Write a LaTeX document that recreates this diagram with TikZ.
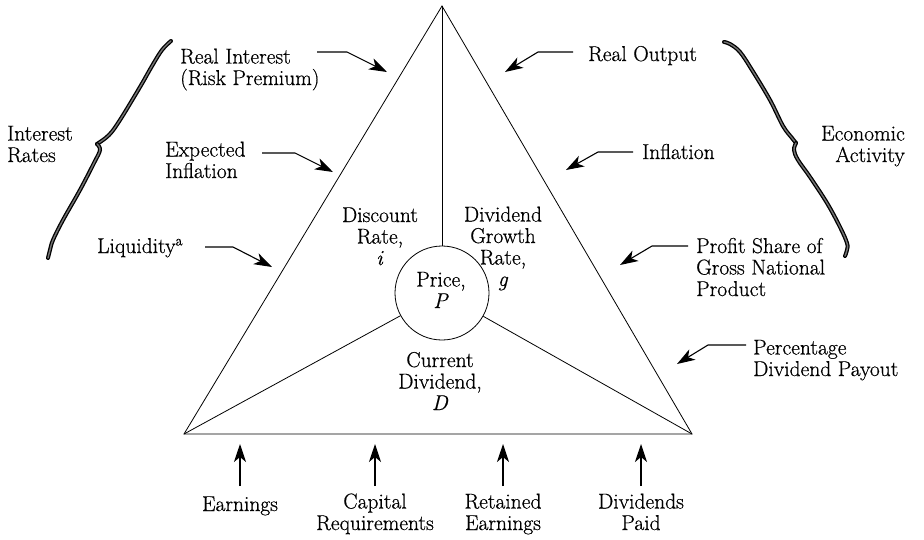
\documentclass[tikz,border=0pt]{standalone}
\usepackage{fontspec}
\setmainfont{Latin Modern Roman}[FakeBold=0.6]
\usetikzlibrary{arrows.meta}
\begin{document}
\begin{tikzpicture}[x=1pt,y=-1pt,
  lbl/.style={inner sep=0pt,font=\fontsize{21.5}{21.5}\selectfont},
  edge/.style={line width=0.8pt},
  arr/.style={line width=1.1pt,-{Stealth[length=18pt,width=12pt,inset=5pt]}},
  curly/.style={line width=1.3pt,line cap=round,line join=miter,
    double=black!55,double distance=1.4pt}]
\useasboundingbox (0,0) rectangle (924,539);

% triangle and the central price circle
\coordinate (A) at (442,6);
\coordinate (L) at (184,434);
\coordinate (R) at (692,434);
\draw[edge,line join=miter] (A) -- (L) -- (R) -- cycle;
\node[circle,draw,edge,minimum size=94pt,inner sep=0pt] (P) at (442,293) {};
\node[lbl,align=center,anchor=base] (price) at (441,308) {Price,\\\textit{P}};
\draw[edge] (A) -- (P.north);
\draw[edge] (P) -- (L);
\draw[edge] (P) -- (R);

% sector labels (anchored on the baseline of their last line)
\node[lbl,align=center,anchor=base] (disc) at (380,265) {Discount\\Rate,\\\textit{i}};
\node[lbl,align=center,anchor=base] (grow) at (503,286) {Dividend\\Growth\\Rate,\\\textit{g}};
\node[lbl,align=center,anchor=base] (cur) at (440,410) {Current\\Dividend,\\\textit{D}};

% left-hand factors
\node[lbl,align=left,anchor=base west] (ri) at (180,85) {Real Interest\\(Risk Premium)};
\node[lbl,align=left,anchor=base west] (ei) at (165,178) {Expected\\Inflation};
\node[lbl,align=left,anchor=base west] (liq) at (97,253) {Liquidity\textsuperscript{a}};
\node[lbl,align=left,anchor=base west] (ir) at (7,162) {Interest\\Rates};

\coordinate (ri0) at (317,52); \coordinate (ri1) at (387,72);
\coordinate (ei0) at (262,153); \coordinate (ei1) at (333,172);
\coordinate (lq0) at (205,247); \coordinate (lq1) at (272,267);
\draw[arr] (ri0) -- ++(30,0) -- (ri1);
\draw[arr] (ei0) -- ++(33,0) -- (ei1);
\draw[arr] (lq0) -- ++(28,0) -- (lq1);

% hand-drawn brace grouping the interest-rate factors
\draw[curly] plot[smooth,tension=0.6] coordinates
  {(171,41) (162,50) (152,66) (140,87) (120,120) (109,135) (97,144)};
\draw[curly] plot[smooth,tension=0.6] coordinates
  {(97,144) (100,150) (94,163) (80,190) (63,220) (53,240) (50,250) (48,258)};

% right-hand factors
\node[lbl,align=left,anchor=base west] (ro) at (588,61) {Real Output};
\node[lbl,align=left,anchor=base west] (inf) at (642,159) {Inflation};
\node[lbl,align=left,anchor=base west] (ps) at (696,296) {Profit Share of\\Gross National\\Product};
\node[lbl,align=left,anchor=base west] (pdp) at (753,376) {Percentage\\Dividend Payout};
\node[lbl,align=right,anchor=base east] (ea) at (905,162) {Economic\\Activity};

\coordinate (ro0) at (573,52); \coordinate (ro1) at (505,72);
\coordinate (in0) at (633,152); \coordinate (in1) at (566,170);
\coordinate (ps0) at (688,246); \coordinate (ps1) at (620,265);
\coordinate (pd0) at (746,345); \coordinate (pd1) at (677,364);
\draw[arr] (ro0) -- ++(-35,0) -- (ro1);
\draw[arr] (in0) -- ++(-35,0) -- (in1);
\draw[arr] (ps0) -- ++(-36,0) -- (ps1);
\draw[arr] (pd0) -- ++(-38,0) -- (pd1);

% hand-drawn brace grouping the economic-activity factors
\draw[curly] plot[smooth,tension=0.6] coordinates
  {(724,42) (730,44) (740,52) (752,70) (770,100) (783,126) (792,138) (796,143)};
\draw[curly] plot[smooth,tension=0.6] coordinates
  {(796,143) (794,150) (798,160) (810,177) (827,203) (840,227) (847,243) (847,250) (845,256)};

% bottom factors
\node[lbl,align=center,anchor=base] (earn) at (240,511) {Earnings};
\node[lbl,align=center,anchor=base] (cap) at (375,530) {Capital\\Requirements};
\node[lbl,align=center,anchor=base] (ret) at (503,530) {Retained\\Earnings};
\node[lbl,align=center,anchor=base] (paid) at (641,530) {Dividends\\Paid};
\foreach \n/\x in {earn/240,cap/375,ret/503,paid/641}{
  \coordinate (\n0) at (\x,486);
  \coordinate (\n1) at (\x,444);
  \draw[arr] (\n0) -- (\n1);
}
\end{tikzpicture}
\end{document}
